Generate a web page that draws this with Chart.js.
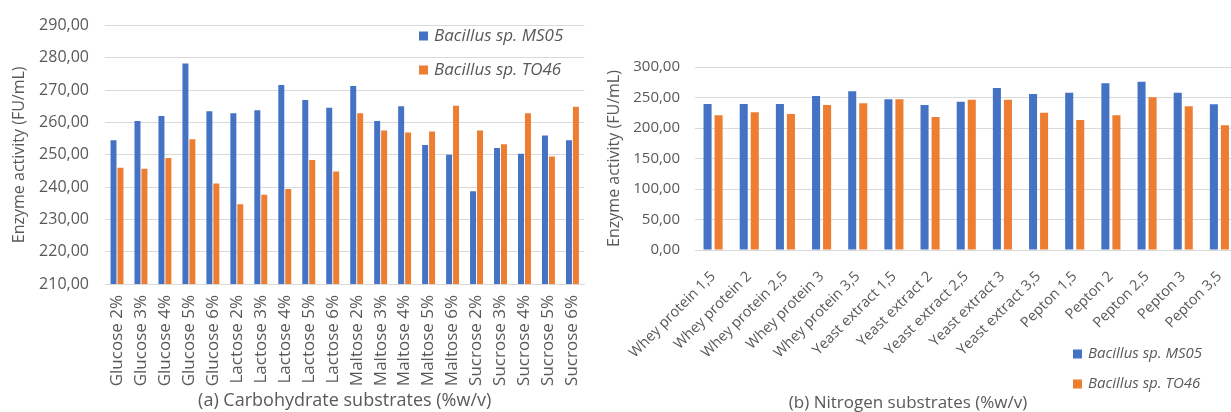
<!DOCTYPE html>
<html>
<head>
<meta charset="utf-8">
<script src="https://cdn.jsdelivr.net/npm/chart.js@4.4.1/dist/chart.umd.min.js"></script>
<style>
  html, body { margin: 0; padding: 0; background: #fff; overflow: hidden; width: 1231px; height: 412px; }
  .box { position: absolute; top: 0; height: 412px; }
  #boxA { left: 0; width: 604px; }
  #boxB { left: 600px; width: 650px; }
</style>
</head>
<body>
<div class="box" id="boxA"><canvas id="chartA"></canvas></div>
<div class="box" id="boxB"><canvas id="chartB"></canvas></div>
<script>
// series names
const seriesNames = ['Bacillus sp. MS05', 'Bacillus sp. TO46'];

// (a) carbohydrate substrates
const carbLabels = ['Glucose 2%', 'Glucose 3%', 'Glucose 4%', 'Glucose 5%', 'Glucose 6%',
  'Lactose 2%', 'Lactose 3%', 'Lactose 4%', 'Lactose 5%', 'Lactose 6%',
  'Maltose 2%', 'Maltose 3%', 'Maltose 4%', 'Maltose 5%', 'Maltose 6%',
  'Sucrose 2%', 'Sucrose 3%', 'Sucrose 4%', 'Sucrose 5%', 'Sucrose 6%'];
const carbMS05 = [254.5, 260.5, 262.0, 278.3, 263.5, 262.9, 263.8, 271.6, 267.0, 264.6,
  271.3, 260.5, 265.0, 253.0, 250.0, 238.7, 252.1, 250.3, 256.0, 254.5];
const carbTO46 = [246.0, 245.7, 249.0, 254.8, 241.1, 234.7, 237.6, 239.4, 248.4, 244.8,
  262.9, 257.5, 256.9, 257.2, 265.2, 257.5, 253.3, 262.9, 249.5, 264.9];

// (b) nitrogen substrates
const nitroLabels = ['Whey protein 1,5', 'Whey protein 2', 'Whey protein 2,5', 'Whey protein 3', 'Whey protein 3,5',
  'Yeast extract 1,5', 'Yeast extract 2', 'Yeast extract 2,5', 'Yeast extract 3', 'Yeast extract 3,5',
  'Pepton 1,5', 'Pepton 2', 'Pepton 2,5', 'Pepton 3', 'Pepton 3,5'];
const nitroMS05 = [239.3, 239.3, 239.3, 252.5, 260.1, 247.0, 237.7, 243.2, 265.6, 255.7,
  257.9, 273.2, 276.0, 257.9, 238.8];
const nitroTO46 = [220.8, 225.7, 223.0, 237.7, 240.4, 247.0, 218.0, 246.4, 246.4, 225.1,
  213.1, 220.8, 250.3, 235.5, 204.4];

const blue = '#4472C4';
const orange = '#ED7D31';
const textGray = '#595959';
const gridGray = '#d9d9d9';

Chart.defaults.font.family = "'Open Sans', sans-serif";
Chart.defaults.color = textGray;

const fmt = v => Number(v).toFixed(2).replace('.', ',');

// legend + caption drawn at fixed spots
const extras = {
  id: 'extras',
  afterDraw(chart, args, opts) {
    const ctx = chart.ctx;
    ctx.save();
    ctx.textBaseline = 'middle';
    chart.data.datasets.forEach((ds, i) => {
      const y = opts.legendY + i * opts.legendDy;
      ctx.fillStyle = ds.backgroundColor;
      ctx.fillRect(opts.legendX, y - opts.box / 2, opts.box, opts.box);
      ctx.fillStyle = textGray;
      ctx.font = 'italic ' + opts.legendSize + "px 'Open Sans', sans-serif";
      ctx.textAlign = 'left';
      ctx.fillText(ds.label, opts.legendX + opts.box + 6, y);
    });
    if (opts.caption) {
      ctx.font = opts.captionSize + "px 'Open Sans', sans-serif";
      ctx.textAlign = 'center';
      ctx.fillStyle = textGray;
      ctx.fillText(opts.caption, opts.captionX, opts.captionY);
    }
    ctx.restore();
  }
};

function makeChart(id, labels, a, b, cfg) {
  return new Chart(document.getElementById(id), {
    type: 'bar',
    data: {
      labels: labels,
      datasets: [
        { label: seriesNames[0], data: a, backgroundColor: blue, borderWidth: 0,
          barPercentage: cfg.barPct, categoryPercentage: cfg.catPct },
        { label: seriesNames[1], data: b, backgroundColor: orange, borderWidth: 0,
          barPercentage: cfg.barPct, categoryPercentage: cfg.catPct }
      ]
    },
    options: {
      responsive: true,
      maintainAspectRatio: false,
      animation: false,
      layout: { padding: cfg.padding },
      plugins: {
        legend: { display: false },
        tooltip: { enabled: false },
        extras: cfg.extras
      },
      scales: {
        x: {
          grid: { display: false, drawTicks: false },
          border: { color: gridGray, width: 1 },
          ticks: { autoSkip: false, minRotation: cfg.rot, maxRotation: cfg.rot,
            padding: cfg.xPad, font: { size: cfg.xSize } },
          title: cfg.xTitle ? { display: true, text: cfg.xTitle, font: { size: 18 }, padding: { top: 0, bottom: 0 } } : { display: false },
          afterFit: s => { s.height = cfg.xHeight; }
        },
        y: {
          min: cfg.min, max: cfg.max,
          grid: { color: gridGray, lineWidth: 1, drawTicks: false },
          border: { display: false },
          ticks: { stepSize: cfg.step, padding: cfg.yPad, font: { size: cfg.ySize }, callback: fmt },
          title: { display: true, text: 'Enzyme activity (FU/mL)', font: { size: cfg.yTitleSize },
            padding: { top: cfg.yTitlePad, bottom: 0 } },
          afterFit: s => { s.width = cfg.yWidth; }
        }
      }
    },
    plugins: [extras]
  });
}

makeChart('chartA', carbLabels, carbMS05, carbTO46, {
  barPct: 0.86, catPct: 0.58, rot: 90, xPad: 11, xSize: 17, xHeight: 128,
  xTitle: '(a) Carbohydrate substrates (%w/v)',
  min: 210, max: 290, step: 10, yPad: 16, ySize: 16, yTitleSize: 16, yTitlePad: 10, yWidth: 105,
  padding: { top: 19, right: 7, left: 0, bottom: 0 },
  extras: { legendX: 419, legendY: 36, legendDy: 34, box: 9, legendSize: 17 }
});

makeChart('chartB', nitroLabels, nitroMS05, nitroTO46, {
  barPct: 0.73, catPct: 0.61, rot: 45, xPad: 18, xSize: 14.5, xHeight: 162,
  xTitle: null,
  min: 0, max: 300, step: 50, yPad: 15, ySize: 15, yTitleSize: 16, yTitlePad: 5, yWidth: 95,
  padding: { top: 67, right: 9, left: 0, bottom: 0 },
  extras: { legendX: 473, legendY: 354, legendDy: 30, box: 9, legendSize: 15,
    caption: '(b) Nitrogen substrates (%w/v)', captionX: 308, captionY: 403, captionSize: 17 }
});
</script>
</body>
</html>
